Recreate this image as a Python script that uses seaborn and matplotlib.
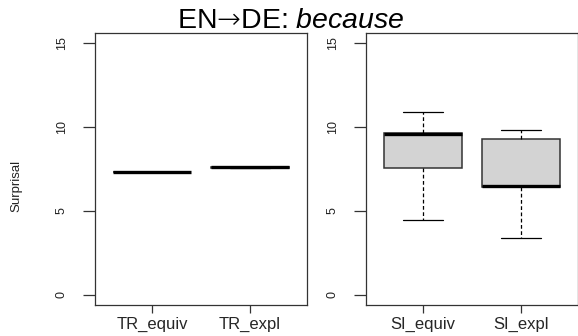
import numpy as np
import pandas as pd
import matplotlib
matplotlib.use("Agg")
import matplotlib.pyplot as plt
import seaborn as sns

# Five-number summaries per condition: lower whisker, Q1, median, Q3, upper whisker
tr_categories = ["TR_equiv", "TR_expl"]
tr_equiv = [7.30, 7.30, 7.30, 7.30, 7.30]
tr_expl = [7.53, 7.57, 7.60, 7.60, 7.60]

si_categories = ["SI_equiv", "SI_expl"]
si_equiv = [4.48, 7.56, 9.60, 9.64, 10.87]
si_expl = [3.39, 6.45, 6.48, 9.30, 9.82]

y_ticks = [0, 5, 10, 15]
y_label = "Surprisal"
title_plain = "EN${\\mathsf{\u2192}}$DE: "
title_italic = "because"

sns.set_style("ticks")
plt.rcParams["font.family"] = ["Liberation Sans", "DejaVu Sans"]
plt.rcParams["mathtext.fontset"] = "custom"
plt.rcParams["mathtext.rm"] = "Liberation Sans"
plt.rcParams["mathtext.it"] = "Liberation Sans:italic"
plt.rcParams["mathtext.sf"] = "DejaVu Sans:light"
plt.rcParams["mathtext.fallback"] = "cm"

fig = plt.figure(figsize=(5.78, 3.36), dpi=100)
fig.patch.set_facecolor("white")

W, H = 578, 336
ax_l = fig.add_axes([95 / W, 1 - 305 / H, 212 / W, 272 / H])
ax_r = fig.add_axes([366 / W, 1 - 305 / H, 212 / W, 272 / H])


def long_frame(cats, groups):
    rows = []
    for c, vals in zip(cats, groups):
        for v in vals:
            rows.append({"cond": c, "value": v})
    return pd.DataFrame(rows)


edge = "#333333"
panels = [
    (ax_l, tr_categories, [tr_equiv, tr_expl]),
    (ax_r, si_categories, [si_equiv, si_expl]),
]

for ax, cats, groups in panels:
    df = long_frame(cats, groups)
    sns.boxplot(
        data=df, x="cond", y="value", order=cats, ax=ax,
        width=0.8, color="#D3D3D3", saturation=1, linecolor=edge,
        linewidth=1.1, whis=(0, 100), showfliers=False,
        whiskerprops=dict(linestyle=(0, (3.0, 2.0)), color="black", linewidth=0.9),
        capprops=dict(color="black", linewidth=0.9),
        medianprops=dict(color="black", linewidth=2.4),
    )
    ax.set_xlim(-0.58, 1.58)
    ax.set_ylim(-0.6, 15.6)
    ax.set_yticks(y_ticks)
    ax.set_yticklabels([str(t) for t in y_ticks], rotation=90, va="center",
                       fontsize=9, color="#222222")
    ax.tick_params(axis="y", length=8.6, width=0.9, pad=11, color=edge)
    ax.tick_params(axis="x", length=5.8, width=0.9, pad=3, color=edge,
                   labelsize=12)
    ax.set_xlabel("")
    ax.set_ylabel("")
    for s in ax.spines.values():
        s.set_color(edge)
        s.set_linewidth(0.9)
    ax.set_facecolor("white")

fig.text(16 / W, 1 - 186 / H, y_label, rotation=90, ha="center", va="center",
         fontsize=9.5, color="#222222")
fig.text(290.5 / W, 1 - 28 / H, title_plain + r"$\it{" + title_italic + "}$",
         ha="center", va="baseline", fontsize=20.5, color="black")

fig.savefig("out.png", dpi=100, facecolor="white")
